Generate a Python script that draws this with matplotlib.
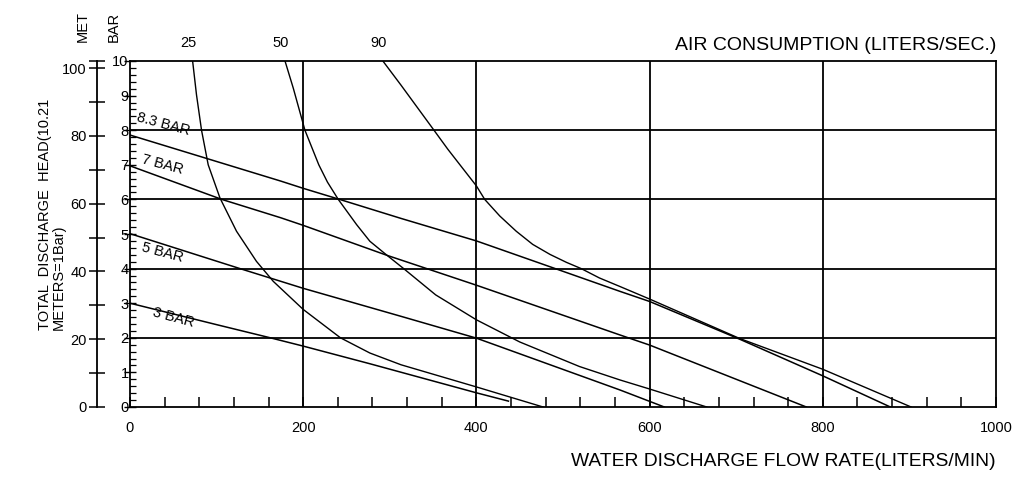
import matplotlib
matplotlib.use("Agg")
import matplotlib.pyplot as plt

plt.rcParams['font.family'] = ['Liberation Sans', 'DejaVu Sans']

# pressure lines (flow in l/min, head in bar)
bar3_x = [0, 100, 162, 200, 277, 400, 437]
bar3_y = [3.0, 2.38, 2.0, 1.76, 1.25, 0.41, 0.17]

bar5_x = [0, 127, 200, 313, 400, 566, 617]
bar5_y = [5.01, 4.0, 3.43, 2.62, 1.99, 0.49, 0.0]

bar7_x = [0, 106, 174, 200, 296, 400, 566, 600, 781]
bar7_y = [6.97, 6.0, 5.47, 5.25, 4.39, 3.52, 2.08, 1.79, 0.0]

bar83_x = [0, 174, 200, 242, 313, 400, 474, 566, 600, 704, 800, 878]
bar83_y = [7.86, 6.53, 6.32, 6.0, 5.45, 4.8, 4.15, 3.34, 3.05, 1.96, 0.9, 0.0]

# air consumption curves (liters/sec)
air25_x = [72.3, 76.8, 82.6, 90.3, 103.9, 123, 146, 165.5, 200, 243, 277, 313, 400, 477]
air25_y = [10, 9.02, 8.0, 7.0, 6.04, 5.08, 4.21, 3.63, 2.82, 2.0, 1.56, 1.22, 0.58, 0.0]

air50_x = [179, 188.6, 202, 218, 228, 240.5, 261.7, 277, 296, 316, 353, 400, 450, 519, 566, 600, 666]
air50_y = [10, 9.21, 8.0, 7.0, 6.5, 6.0, 5.27, 4.79, 4.4, 4.0, 3.24, 2.52, 1.88, 1.17, 0.78, 0.52, 0.0]

air90_x = [292, 313, 351, 367, 381, 400, 409.6, 427, 446, 465, 485, 504, 521, 542, 566, 600, 704, 800, 902]
air90_y = [10, 9.3, 8.0, 7.45, 7.0, 6.39, 6.0, 5.52, 5.08, 4.70, 4.41, 4.18, 4.0, 3.73, 3.48, 3.12, 1.98, 1.09, 0.0]

pressure_lines = [
    (bar83_x, bar83_y, '8.3 BAR', 38, 8.18),
    (bar7_x, bar7_y, '7 BAR', 38, 7.0),
    (bar5_x, bar5_y, '5 BAR', 38, 4.45),
    (bar3_x, bar3_y, '3 BAR', 50, 2.57),
]
air_curves = [(air25_x, air25_y, '25'), (air50_x, air50_y, '50'), (air90_x, air90_y, '90')]

x_labels = [0, 200, 400, 600, 800, 1000]
bar_ticks = list(range(0, 11))
met_labels = [0, 20, 40, 60, 80, 100]
M_PER_BAR = 10.21

fig = plt.figure(figsize=(10.24, 4.92), dpi=100)
ax = fig.add_axes([130 / 1024, 1 - 407 / 492, 866 / 1024, 346 / 492])

ax.set_xlim(0, 1000)
ax.set_ylim(0, 10)

# grid
for gx in [200, 400, 600, 800]:
    ax.axvline(gx, color='black', linewidth=1.3, zorder=1)
for gy in [2, 4, 6, 8]:
    ax.axhline(gy, color='black', linewidth=1.3, zorder=1)

for xs, ys, label, lx, ly in pressure_lines:
    ax.plot(xs, ys, color='black', linewidth=1.1, zorder=2)
    ax.text(lx, ly, label, fontsize=10.5, rotation=-15, ha='center', va='center')

for xs, ys, label in air_curves:
    ax.plot(xs, ys, color='black', linewidth=1.0, zorder=2)
    ax.annotate(label, xy=(xs[0], 10), xytext=(-3, 8), textcoords='offset points',
                ha='center', va='bottom', fontsize=10.5, annotation_clip=False)

for side in ['top', 'right', 'bottom', 'left']:
    ax.spines[side].set_linewidth(1.3)

# x axis
ax.set_xticks(x_labels)
ax.set_xticklabels([str(v) for v in x_labels])
ax.set_xticks(range(0, 1001, 40), minor=True)
ax.tick_params(axis='x', which='both', direction='in', length=7, width=1.1, pad=10, labelsize=10.5)

# bar axis
ax.set_yticks(bar_ticks)
ax.set_yticklabels([str(v) for v in bar_ticks])
ax.set_yticks([i / 5 for i in range(0, 51)], minor=True)
ax.tick_params(axis='y', which='major', direction='inout', length=8, width=1.0, pad=-3, labelsize=10.5)
ax.tick_params(axis='y', which='minor', direction='in', length=4, width=0.9)

# meter axis
sec = ax.secondary_yaxis(-0.038, functions=(lambda b: b * M_PER_BAR, lambda m: m / M_PER_BAR))
sec.set_yticks(list(range(0, 101, 10)) + [10 * M_PER_BAR])
sec.set_yticklabels([str(v) if v in met_labels else '' for v in range(0, 101, 10)] + [''])
sec.tick_params(axis='y', direction='inout', length=11, width=1.1, pad=2, labelsize=10.5)
sec.spines['left'].set_linewidth(1.3)

fig.text(83 / 1024, 1 - 27 / 492, 'MET', rotation=90, ha='center', va='center', fontsize=10.5)
fig.text(114 / 1024, 1 - 27 / 492, 'BAR', rotation=90, ha='center', va='center', fontsize=10.5)

fig.text(52 / 1024, 1 - 330 / 492, 'TOTAL  DISCHARGE  HEAD(10.21\nMETERS=1Bar)', rotation=90,
         ha='center', va='bottom', multialignment='left', fontsize=10.5, linespacing=1.0)

fig.text(996 / 1024, 1 - 46 / 492, 'AIR CONSUMPTION (LITERS/SEC.)', ha='right', va='center', fontsize=14)
fig.text(996 / 1024, 1 - 461 / 492, 'WATER DISCHARGE FLOW RATE(LITERS/MIN)', ha='right', va='center', fontsize=13.9)

fig.savefig('out.png', dpi=100)
